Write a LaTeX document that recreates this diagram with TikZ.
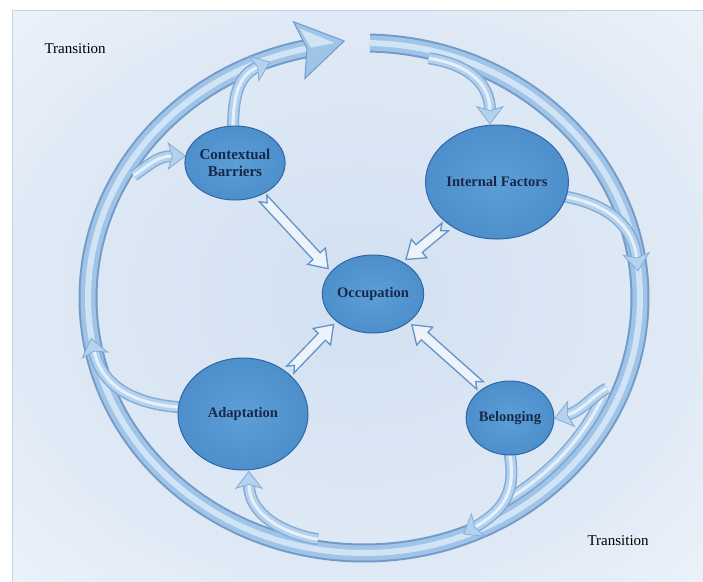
\documentclass[tikz,border=0pt]{standalone}
\usepackage{fontspec}
\setmainfont{Liberation Serif}
\usetikzlibrary{shapes.geometric,calc,decorations.markings}

\definecolor{bgin}{RGB}{210,224,241}
\definecolor{bgmid}{RGB}{224,234,246}
\definecolor{bgout}{RGB}{243,246,251}
\definecolor{frameline}{RGB}{198,211,228}
\definecolor{ringedge}{RGB}{115,155,200}
\definecolor{ringfill}{RGB}{160,196,231}
\definecolor{ringlight}{RGB}{208,228,246}
\definecolor{branchedge}{RGB}{132,172,214}
\definecolor{branchfill}{RGB}{180,210,238}
\definecolor{branchlight}{RGB}{228,240,251}
\definecolor{orbin}{RGB}{92,158,214}
\definecolor{orbmid}{RGB}{72,138,200}
\definecolor{orbout}{RGB}{48,102,165}
\definecolor{orbtext}{RGB}{24,40,72}
\definecolor{hollowedge}{RGB}{98,148,202}
\definecolor{hollowfill}{RGB}{236,243,251}

\pgfdeclareradialshading{halo}{\pgfpoint{0bp}{0bp}}{color(0bp)=(bgin); color(25bp)=(bgmid); color(42bp)=(bgout); color(70bp)=(white)}
\pgfdeclareradialshading{orbshade}{\pgfpoint{0bp}{0bp}}{color(0bp)=(orbin); color(34bp)=(orbmid); color(50bp)=(orbout); color(70bp)=(orbout)}

\pgfdeclarelayer{bg}
\pgfdeclarelayer{back}
\pgfsetlayers{bg,back,main}

\tikzset{
  bubble/.style={ellipse, draw=orbout, line width=1pt, shading=orbshade, text=orbtext,
    font=\bfseries\fontsize{14.5}{17}\selectfont, inner sep=0pt, align=center},
  label/.style={anchor=west, font=\fontsize{15}{18}\selectfont},
  ring/.style={line width=19pt, draw=ringedge,
    postaction={draw=ringfill, line width=15pt},
    postaction={draw=ringlight, line width=6pt},
    postaction={decorate, decoration={markings, mark=at position 0.999 with {
      \fill[ringfill, draw=ringedge, line width=1pt] (-6,-29) -- (40,0) -- (-6,29) -- (2,0) -- cycle;
      \fill[ringlight] (-1,-21) -- (30,0) -- (6,0) -- cycle;}}}},
  band/.style={line width=12pt, draw=branchedge,
    postaction={draw=branchfill, line width=9pt},
    postaction={draw=branchlight, line width=3pt}},
  branch/.style={band,
    postaction={decorate, decoration={markings, mark=at position 0.999 with {
      \fill[branchfill, draw=branchedge, line width=0.8pt] (-4,-13) -- (13,0) -- (-4,13) -- (0,0) -- cycle;}}}},
  hollow/.style={draw=hollowedge, line width=1.3pt, fill=hollowfill},
}

% notched outline arrow between two points
\newcommand\hollowarrow[2]{%
  \path (#1) coordinate (ha) (#2) coordinate (hb);
  \draw[hollow] ($(ha)!4pt!(hb)!5pt!90:(hb)$)
    -- ($(hb)!21pt!(ha)!5pt!-90:(ha)$)
    -- ($(hb)!21pt!(ha)!12pt!-90:(ha)$)
    -- ($(hb)!4pt!(ha)$)
    -- ($(hb)!21pt!(ha)!12pt!90:(ha)$)
    -- ($(hb)!21pt!(ha)!5pt!90:(ha)$)
    -- ($(ha)!4pt!(hb)!5pt!-90:(hb)$)
    -- ($(ha)!10pt!(hb)$) -- cycle;}

\begin{document}
\begin{tikzpicture}[x=1pt, y=-1pt]
  \useasboundingbox (0,0) rectangle (703,581);
  \begin{pgfonlayer}{bg}
    \fill[white] (0,0) rectangle (703,581);
    \shade[shading=halo] (12,10) rectangle (703,581);
    \draw[frameline, line width=1pt] (703,10) -- (12,10) -- (12,581);
  \end{pgfonlayer}

  \coordinate (hub) at (364,298);

  % nodes
  \node[bubble, minimum width=100pt, minimum height=78pt] (occ) at (373,294) {Occupation};
  \node[bubble, minimum width=84pt, minimum height=74pt, font=\bfseries\fontsize{15}{17}\selectfont] (cb) at (235,163) {Contextual\\Barriers};
  \node[bubble, minimum width=130pt, minimum height=114pt] (if) at (497,182) {Internal Factors};
  \node[bubble, minimum width=130pt, minimum height=112pt] (ad) at (243,414) {Adaptation};
  \node[bubble, minimum width=86pt, minimum height=74pt] (be) at (510,418) {Belonging};

  \node[label] (tr1) at (41,49) {Transition};
  \node[label] (tr2) at (584,541) {Transition};

  \begin{pgfonlayer}{back}
    % outer cycle
    \draw[ring] ($(hub)+(-88.75:276 and 255)$) arc[start angle=-88.75, end angle=258, x radius=276, y radius=255];

    % branches
    \draw[branch] ($(hub)+(-76:268 and 247)$) .. controls +(35,5) and +(0,-30) .. ([yshift=14pt]if.97);
    \draw[branch, shorten <=-4pt] (if.-12) .. controls +(45,8) and +(-3,-30) .. ($(hub)+(-9:276 and 255)$);
    \draw[band] ($(hub)+(24:262 and 241)$) arc[start angle=24, end angle=58, x radius=262, y radius=241];
    \draw[branch] ($(hub)+(22:262 and 241)$) .. controls +(-15,8) and +(15,-4) .. ([xshift=13pt]be.4);
    \draw[branch, shorten <=-4pt] (be.-90) .. controls +(8,40) and +(25,-15) .. ($(hub)+(66:272 and 251)$);
    \draw[branch] ($(hub)+(100:266 and 245)$) .. controls +(-35,-6) and +(0,30) .. ([yshift=-14pt]ad.-84);
    \draw[branch, shorten <=-4pt] (ad.174) .. controls +(-45,-3) and +(8,35) .. ($(hub)+(168:276 and 255)$);
    \draw[branch] ($(hub)+(210:266 and 245)$) .. controls +(15,-10) and +(-15,0) .. ([xshift=-13pt]cb.172);
    \draw[branch, shorten <=-4pt] (cb.93) .. controls +(0,-28) and +(-20,8) .. ($(hub)+(247:272 and 251)$);

    % into the centre
    \hollowarrow{cb.-52}{occ.152}
    \hollowarrow{if.221}{occ.47}
    \hollowarrow{ad.43}{occ.217}
    \hollowarrow{be.132}{occ.-38}
  \end{pgfonlayer}
\end{tikzpicture}
\end{document}
